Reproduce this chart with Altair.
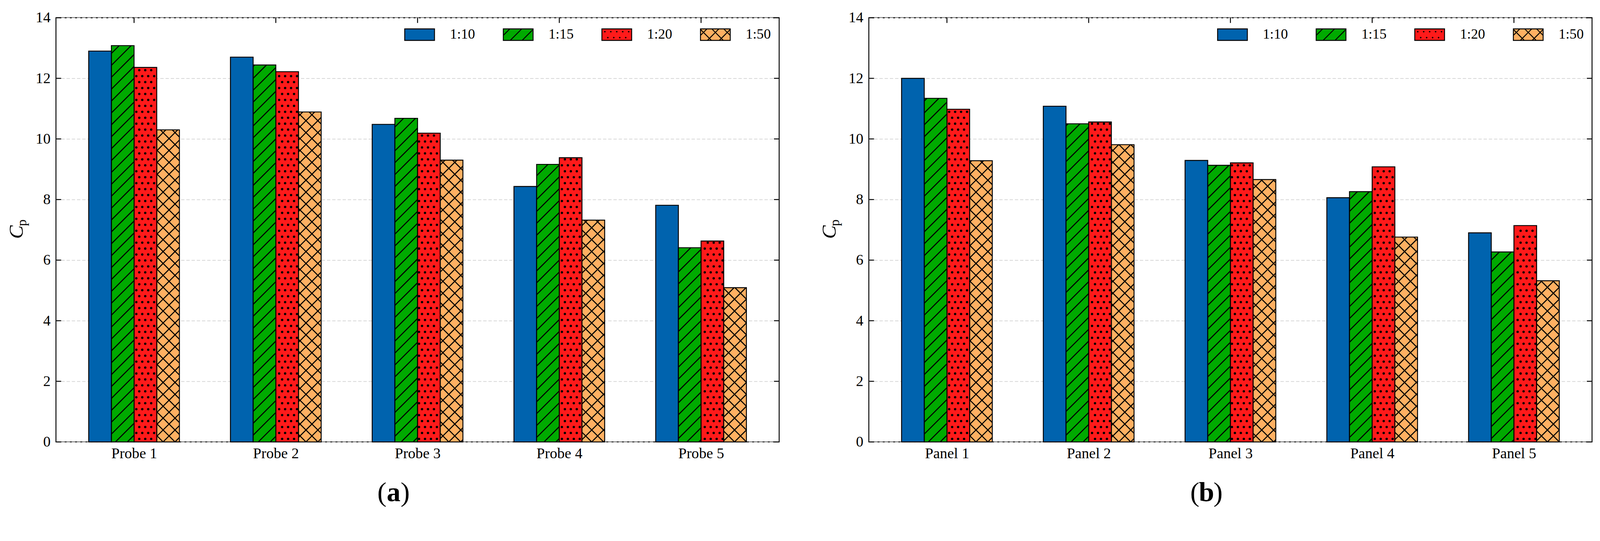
import json
import numpy as np
import pandas as pd
import altair as alt

# ---------------- data ----------------
probes = ["Probe 1", "Probe 2", "Probe 3", "Probe 4", "Probe 5"]
panels = ["Panel 1", "Panel 2", "Panel 3", "Panel 4", "Panel 5"]
ratios = ["1:10", "1:15", "1:20", "1:50"]
colors = ["#0063ae", "#00aa00", "#ff1a1a", "#ffb062"]
hatches = ["", "/", ".", "x"]

probe_1_10 = [12.90, 12.70, 10.48, 8.43, 7.81]
probe_1_15 = [13.08, 12.44, 10.68, 9.16, 6.41]
probe_1_20 = [12.36, 12.22, 10.19, 9.38, 6.63]
probe_1_50 = [10.30, 10.89, 9.30, 7.32, 5.09]

panel_1_10 = [12.00, 11.08, 9.29, 8.06, 6.90]
panel_1_15 = [11.34, 10.50, 9.13, 8.26, 6.27]
panel_1_20 = [10.98, 10.56, 9.21, 9.08, 7.14]
panel_1_50 = [9.28, 9.81, 8.66, 6.76, 5.32]

y_ticks = [0, 2, 4, 6, 8, 10, 12, 14]
tags = ["a", "b"]

# ---------------- geometry / style ----------------
W, H = 1944, 1141
XMIN, XMAX = -0.551, 4.551
YMAX = 14
BAR_W = 0.16
XPX = W / (XMAX - XMIN)
YPX = H / YMAX
HATCH = 32.0
DOT = 16.0
TICK = 14
FONT = "Liberation Serif"

xscale = alt.Scale(domain=[XMIN, XMAX], nice=False, zero=False)
yscale = alt.Scale(domain=[0, YMAX], nice=False, zero=False)


def bar_table(cats, series_vals):
    rows = []
    for s, (name, vals) in enumerate(zip(ratios, series_vals)):
        for i, (c, v) in enumerate(zip(cats, vals)):
            rows.append({"cat": c, "idx": i, "series": name, "sidx": s, "value": v})
    return pd.DataFrame(rows)


def hatch_tables(df):
    segs, dots = [], []
    for r in df.itertuples():
        kind = hatches[r.sidx]
        xl = r.idx + (r.sidx - 1.5) * BAR_W - BAR_W / 2
        X0 = (xl - XMIN) * XPX
        X1 = X0 + BAR_W * XPX
        h = r.value * YPX
        if kind in ("/", "x"):
            for k in range(int(np.floor(-X1 / HATCH)) - 1, int(np.ceil((h - X0) / HATCH)) + 2):
                c = k * HATCH
                a, b = max(X0, -c), min(X1, h - c)
                if b - a > 1:
                    segs.append((a, a + c, b, b + c))
        if kind == "x":
            for k in range(int(np.floor(X0 / HATCH)) - 1, int(np.ceil((X1 + h) / HATCH)) + 2):
                c = k * HATCH
                a, b = max(X0, c - h), min(X1, c)
                if b - a > 1:
                    segs.append((a, c - a, b, c - b))
        if kind == ".":
            j = 0
            while True:
                py = j * DOT + DOT / 2
                if py > h - 3:
                    break
                off = DOT / 2 if j % 2 else 0.0
                k0 = int(np.floor(X0 / DOT)) - 1
                for k in range(k0, k0 + 8):
                    px = k * DOT + off
                    if X0 + 2.5 < px < X1 - 2.5:
                        dots.append((px, py))
                j += 1
    seg_df = pd.DataFrame(
        [{"x": a / XPX + XMIN, "y": b / YPX, "x2": c / XPX + XMIN, "y2": d / YPX} for a, b, c, d in segs]
    )
    dot_df = pd.DataFrame([{"x": a / XPX + XMIN, "y": b / YPX} for a, b in dots])
    return seg_df, dot_df


def swatch_path(kind):
    U = 40.0
    w2, h2 = 40.0, 15.5
    f = lambda v: f"{v / U:.4f}"
    parts = [f"M{f(-w2)},{f(-h2)}L{f(w2)},{f(-h2)}L{f(w2)},{f(h2)}L{f(-w2)},{f(h2)}Z"]
    if kind in ("/", "x"):
        for k in range(-6, 7):
            c = k * HATCH + 6
            a, b = max(-w2, -h2 - c), min(w2, h2 - c)
            if b - a > 1:
                parts.append(f"M{f(a)},{f(-(a + c))}L{f(b)},{f(-(b + c))}")
    if kind == "x":
        for k in range(-6, 7):
            c = k * HATCH + 6
            a, b = max(-w2, c - h2), min(w2, c + h2)
            if b - a > 1:
                parts.append(f"M{f(a)},{f(-(c - a))}L{f(b)},{f(-(c - b))}")
    if kind == ".":
        for j, yy in enumerate([-8.0, 8.0]):
            off = DOT / 2 if j % 2 else 0.0
            for k in range(-3, 4):
                xx = k * DOT + off
                if -w2 + 3 < xx < w2 - 3:
                    d = 0.8
                    parts.append(
                        f"M{f(xx - d)},{f(yy)}L{f(xx)},{f(yy - d)}L{f(xx + d)},{f(yy)}L{f(xx)},{f(yy + d)}Z"
                    )
    return "".join(parts)


shape_paths = [swatch_path(k) for k in hatches]


def make_panel(cats, series_vals, tag):
    df = bar_table(cats, series_vals)
    seg_df, dot_df = hatch_tables(df)

    base = alt.Chart(df).transform_calculate(
        x0=f"datum.idx + (datum.sidx - 1.5) * {BAR_W} - {BAR_W / 2}"
    ).transform_calculate(
        x1=f"datum.x0 + {BAR_W}", y0="0", col=f"{json.dumps(colors)}[datum.sidx]"
    )

    x_axis = alt.Axis(
        values=list(range(len(cats))),
        labelExpr=f"{json.dumps(cats)}[datum.value]",
        title=None, ticks=False, tickSize=0, domain=False, grid=False,
        labelFont=FONT, labelFontSize=40, labelColor="black", labelPadding=11,
    )
    y_axis = alt.Axis(
        values=y_ticks, title=None, ticks=False, tickSize=0, domain=False,
        grid=True, gridDash=[9, 5], gridColor="#d2d2d2", gridWidth=2,
        labelFont=FONT, labelFontSize=40, labelColor="black", labelPadding=15,
        minExtent=140, maxExtent=140,
    )

    bars = base.mark_rect(strokeWidth=0).encode(
        x=alt.X("x0:Q", scale=xscale, axis=x_axis),
        x2="x1:Q",
        y=alt.Y("value:Q", scale=yscale, axis=y_axis),
        y2="y0:Q",
        fill=alt.Fill("col:N", scale=None),
    )
    hatch_lines = alt.Chart(seg_df).mark_rule(color="black", strokeWidth=2.8).encode(
        x=alt.X("x:Q", scale=xscale, axis=x_axis),
        x2="x2:Q",
        y=alt.Y("y:Q", scale=yscale, axis=y_axis),
        y2="y2:Q",
    )
    hatch_dots = alt.Chart(dot_df).mark_circle(color="black", opacity=1, size=40).encode(
        x=alt.X("x:Q", scale=xscale, axis=x_axis),
        y=alt.Y("y:Q", scale=yscale, axis=y_axis),
    )
    outlines = base.mark_rect(fill=None, stroke="black", strokeWidth=2.5).encode(
        x=alt.X("x0:Q", scale=xscale, axis=x_axis),
        x2="x1:Q",
        y=alt.Y("value:Q", scale=yscale, axis=y_axis),
        y2="y0:Q",
    )

    ytick_df = pd.DataFrame({"v": y_ticks})
    left_ticks = alt.Chart(ytick_df).mark_rule(color="black", strokeWidth=2.5).encode(
        y=alt.Y("v:Q", scale=yscale, axis=y_axis), x=alt.value(0), x2=alt.value(TICK)
    )
    right_ticks = alt.Chart(ytick_df).mark_rule(color="black", strokeWidth=2.5).encode(
        y=alt.Y("v:Q", scale=yscale, axis=y_axis), x=alt.value(W - TICK), x2=alt.value(W)
    )
    xtick_df = pd.DataFrame({"i": list(range(len(cats)))})
    top_ticks = alt.Chart(xtick_df).mark_rule(color="black", strokeWidth=2.5).encode(
        x=alt.X("i:Q", scale=xscale, axis=x_axis), y=alt.value(0), y2=alt.value(TICK)
    )

    legend = alt.Legend(
        title=None, orient="none", legendX=936, legendY=4, direction="horizontal",
        symbolSize=6400, symbolStrokeWidth=2.5, symbolOpacity=1,
        labelFont=FONT, labelFontSize=38, labelColor="black", labelOffset=40,
        columnPadding=70, padding=0,
    )
    key_df = pd.DataFrame({"series": ratios})
    # key symbols sit outside the clipped plot area; only their legend is seen
    keys = alt.Chart(key_df).mark_point(filled=True, clip=True, stroke="black", strokeWidth=2.5).encode(
        x=alt.value(-3000), y=alt.value(-3000),
        fill=alt.Fill("series:N", scale=alt.Scale(domain=ratios, range=colors), legend=legend),
        shape=alt.Shape("series:N", scale=alt.Scale(domain=ratios, range=shape_paths), legend=legend),
    )

    one = pd.DataFrame({"k": [0]})
    c_title = alt.Chart(one).mark_text(
        text="C", font=FONT, fontSize=54, fontStyle="italic", angle=270,
        align="left", baseline="alphabetic", color="black",
    ).encode(x=alt.value(-89), y=alt.value(H / 2 + 24))
    p_title = alt.Chart(one).mark_text(
        text="p", font=FONT, fontSize=36, angle=270,
        align="left", baseline="alphabetic", color="black",
    ).encode(x=alt.value(-80), y=alt.value(H / 2 - 10))

    cx = W / 2 - 64.5
    cy = H + 159
    lp = alt.Chart(one).mark_text(text="(", font=FONT, fontSize=74, align="right", baseline="alphabetic",
                                  color="black").encode(x=alt.value(cx - 19), y=alt.value(cy))
    mid = alt.Chart(one).mark_text(text=tag, font=FONT, fontSize=74, fontWeight="bold", align="center",
                                   baseline="alphabetic", color="black").encode(x=alt.value(cx), y=alt.value(cy))
    rp = alt.Chart(one).mark_text(text=")", font=FONT, fontSize=74, align="left", baseline="alphabetic",
                                  color="black").encode(x=alt.value(cx + 19), y=alt.value(cy))

    return alt.layer(
        bars, hatch_lines, hatch_dots, outlines, left_ticks, right_ticks, top_ticks,
        keys, c_title, p_title, lp, mid, rp,
    ).properties(width=W, height=H)


left = make_panel(probes, [probe_1_10, probe_1_15, probe_1_20, probe_1_50], tags[0])
right = make_panel(panels, [panel_1_10, panel_1_15, panel_1_20, panel_1_50], tags[1])

chart = alt.hconcat(left, right, spacing=96).resolve_scale(
    fill="independent", shape="independent"
).properties(
    padding={"left": 0, "top": -16, "right": 10, "bottom": 10},
    background="white",
).configure(
    font=FONT
).configure_axis(
    labelFont=FONT, labelFontSize=40, labelColor="black"
).configure_legend(
    labelFont=FONT, labelFontSize=38, labelColor="black"
).configure_text(
    font=FONT
).configure_view(
    stroke="black", strokeWidth=2.5
)

chart.save("out.html", embed_options={"renderer": "svg", "actions": False})
